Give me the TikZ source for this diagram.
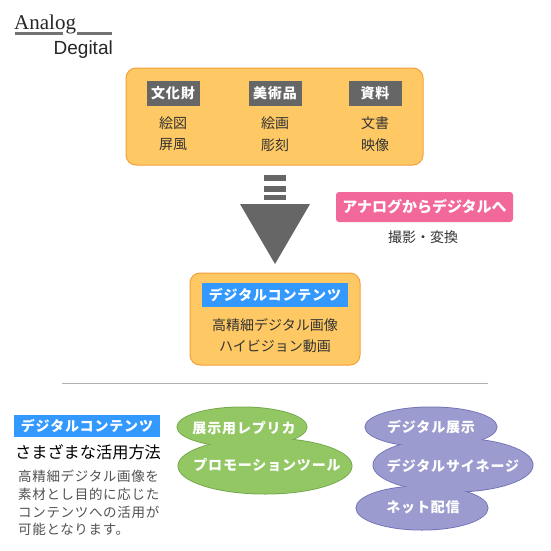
\documentclass[tikz,border=0pt]{standalone}
\usepackage{fontspec}
\setmainfont{Noto Sans CJK JP}
\newfontfamily\jp{Noto Sans CJK JP}
\newfontfamily\jpsp[LetterSpace=5]{Noto Sans CJK JP}
\newfontfamily\jplab[LetterSpace=6]{Noto Sans CJK JP}
\newfontfamily\anaserif{Liberation Serif}
\newfontfamily\digsans{Liberation Sans}
\definecolor{orfill}{HTML}{FEC964}
\definecolor{ordraw}{HTML}{F5A03A}
\definecolor{labgrey}{HTML}{666666}
\definecolor{pinkc}{HTML}{F2689A}
\definecolor{bluec}{HTML}{3399FF}
\definecolor{greenf}{HTML}{93C763}
\definecolor{greend}{HTML}{72A94C}
\definecolor{purf}{HTML}{9B9BCF}
\definecolor{purd}{HTML}{7474BA}
\definecolor{txt}{HTML}{333333}
\tikzset{
  obox/.style={draw=ordraw, line width=1pt, fill=orfill, rounded corners=10pt, inner sep=0pt},
  greylab/.style={fill=labgrey, text=white, font=\jplab\bfseries\fontsize{14}{16}\selectfont, inner sep=0pt, minimum height=25pt},
  bluelab/.style={fill=bluec, text=white, font=\jplab\bfseries\fontsize{14}{16}\selectfont, inner sep=0pt, minimum height=24pt},
  body/.style={text=txt, font=\jp\fontsize{14}{16}\selectfont, inner sep=0pt},
  para/.style={text=txt!85, font=\jpsp\fontsize{13.5}{16}\selectfont, inner sep=0pt, anchor=west},
  blobtxt/.style={text=white, font=\jplab\bfseries\fontsize{14}{16}\selectfont, inner sep=0pt},
  gblob/.style={draw=greend, line width=1pt, fill=greenf},
  pblob/.style={draw=purd, line width=1pt, fill=purf},
}
\begin{document}
\begin{tikzpicture}[x=1pt,y=-1pt]
\useasboundingbox (0,0) rectangle (550,551);
\fill[white] (0,0) rectangle (550,551);
% logo
\node[anchor=base west, inner sep=0pt, font=\anaserif\fontsize{21}{22}\selectfont, text=black!85] (analog) at (14,30) {Analog};
\node[anchor=base east, inner sep=0pt, font=\digsans\fontsize{19}{20}\selectfont, text=black!85] (degital) at (113,55) {Degital};
\fill[black!55] (15,32.5) rectangle (63,35.5);
\fill[black!55] (77,32.5) rectangle (112,35.5);
% top box
\node[obox, minimum width=297pt, minimum height=97pt] (top) at (274.5,116.5) {};
\node[greylab, minimum width=53pt] (l1) at (173,93.5) {文化財};
\node[greylab, minimum width=53pt] (l2) at (275,93.5) {美術品};
\node[greylab, minimum width=53pt] (l3) at (375,93.5) {資料};
\node[body] (a1) at (173,123) {絵図};
\node[body] (a2) at (173,145) {屏風};
\node[body] (b1) at (275,123) {絵画};
\node[body] (b2) at (275,145) {彫刻};
\node[body] (c1) at (375,123) {文書};
\node[body] (c2) at (375,145) {映像};
% arrow
\fill[labgrey] (264,175) rectangle (286,181);
\fill[labgrey] (264,185.5) rectangle (286,191.5);
\fill[labgrey] (264,194.5) rectangle (286,200);
\fill[labgrey] (240,204) -- (310,204) -- (275,264) -- cycle;
% pink label
\node[fill=pinkc, rounded corners=3pt, text=white, font=\jp\bfseries\fontsize{15}{16}\selectfont, inner sep=0pt, minimum width=177pt, minimum height=30pt] (pink) at (424.5,207) {アナログからデジタルへ};
\node[body] (conv) at (423,237) {撮影・変換};
% middle box
\node[obox, minimum width=170pt, minimum height=92pt] (mid) at (275,319) {};
\node[bluelab, minimum width=146pt] (mlab) at (275,295) {デジタルコンテンツ};
\node[body] (m1) at (275,325) {高精細デジタル画像};
\node[body] (m2) at (275,346) {ハイビジョン動画};
% separator
\draw[black!30, line width=0.8pt] (62,383) -- (488,383);
% left block
\node[bluelab, minimum width=146pt, minimum height=22pt] (llab) at (87,425.5) {デジタルコンテンツ};
\node[inner sep=0pt, text=black, font=\jp\fontsize{16.2}{18}\selectfont] (ltitle) at (88,452) {さまざまな活用方法};
\node[para] (p1) at (18,476) {高精細デジタル画像を};
\node[para] (p2) at (18,494) {素材とし目的に応じた};
\node[para] (p3) at (18,512) {コンテンツへの活用が};
\node[para] (p4) at (18,529) {可能となります。};
% green blobs
\draw[gblob] (242,427) ellipse [x radius=65, y radius=20];
\draw[gblob] (265,466) ellipse [x radius=87, y radius=28];
\fill[greenf] (242,427) ellipse [x radius=64.5, y radius=19.5];
\fill[greenf] (265,466) ellipse [x radius=86.5, y radius=27.5];
\node[blobtxt] (g1) at (244,428) {展示用レプリカ};
\node[blobtxt] (g2) at (267,465) {プロモーションツール};
% purple blobs
\draw[pblob] (431,427) ellipse [x radius=66, y radius=20];
\draw[pblob] (453,465) ellipse [x radius=80, y radius=27];
\draw[pblob] (422,508) ellipse [x radius=66, y radius=22];
\fill[purf] (431,427) ellipse [x radius=65.5, y radius=19.5];
\fill[purf] (453,465) ellipse [x radius=79.5, y radius=26.5];
\fill[purf] (422,508) ellipse [x radius=65.5, y radius=21.5];
\node[blobtxt] (q1) at (431,427) {デジタル展示};
\node[blobtxt] (q2) at (453,466) {デジタルサイネージ};
\node[blobtxt] (q3) at (423,507) {ネット配信};
\end{tikzpicture}
\end{document}
